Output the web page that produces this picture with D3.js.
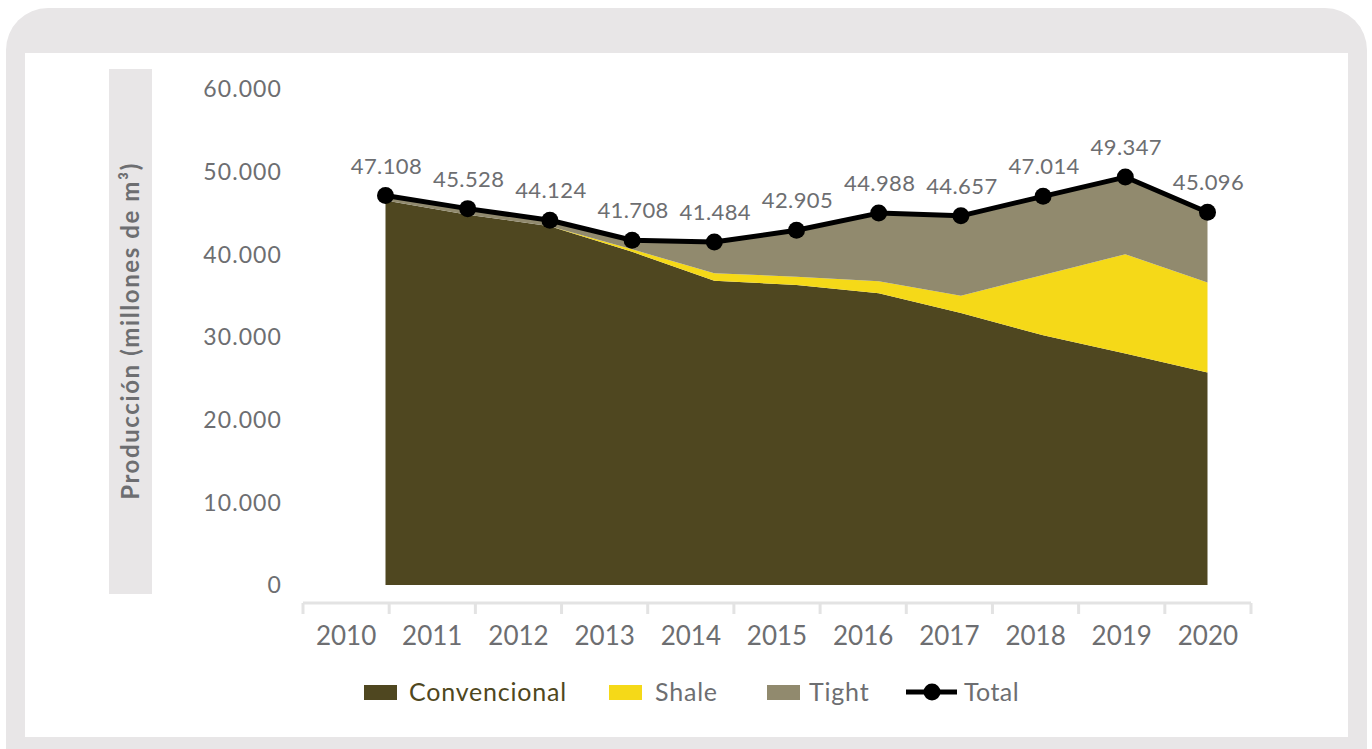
<!DOCTYPE html>
<html>
<head>
<meta charset="utf-8">
<script src="https://cdn.jsdelivr.net/npm/d3@7"></script>
<style>
  html, body { margin: 0; padding: 0; background: #ffffff; }
  svg { display: block; }
  text { font-family: Lato, "Open Sans", sans-serif; }
</style>
</head>
<body>
<svg id="chart" width="1372" height="749"></svg>
<script>
// Producción de gas por tipo de reservorio (millones de m³)
const years = ["2010", "2011", "2012", "2013", "2014", "2015", "2016", "2017", "2018", "2019", "2020"];
const convencional = [46500, 44800, 43400, 40300, 36800, 36300, 35300, 32900, 30200, 28000, 25700];
const shale        = [0, 0, 0, 300, 900, 1000, 1450, 2100, 7300, 12000, 10900];
const tight        = [608, 728, 724, 1108, 3784, 5605, 8238, 9657, 9514, 9347, 8496];
const total        = [47108, 45528, 44124, 41708, 41484, 42905, 44988, 44657, 47014, 49347, 45096];
const yTicks = [0, 10000, 20000, 30000, 40000, 50000, 60000];

const seriesNames  = ["Convencional", "Shale", "Tight"];
const seriesColors = { Convencional: "#4f4720", Shale: "#f5d918", Tight: "#918a6e" };
const labelGray = "#6d6e71";

const fmt = v => d3.format(",")(v).replace(/,/g, ".");

const svg = d3.select("#chart");

// Frame
svg.append("rect").attr("x", 6).attr("y", 8).attr("width", 1361).attr("height", 800)
  .attr("rx", 42).attr("fill", "#e8e6e7");
svg.append("rect").attr("x", 25).attr("y", 53).attr("width", 1323).attr("height", 684)
  .attr("fill", "#ffffff");

// Y-axis title band
svg.append("rect").attr("x", 109).attr("y", 69).attr("width", 43).attr("height", 525)
  .attr("fill", "#e8e6e7");
svg.append("text")
  .attr("transform", "translate(139,331) rotate(-90)")
  .attr("text-anchor", "middle")
  .attr("font-size", 24).attr("font-weight", 700).attr("fill", labelGray)
  .attr("letter-spacing", 1.6)
  .text("Producción (millones de m³)");

// Scales
const y = d3.scaleLinear().domain([0, 60000]).range([585, 89]);
const xBand = d3.scaleBand().domain(years).range([303, 1251]);
const xPt = d3.scalePoint().domain(years).range([385.5, 1207.5]);

// Y tick labels
svg.append("g").selectAll("text").data(yTicks).join("text")
  .attr("x", 282).attr("y", d => y(d)).attr("dy", "0.36em")
  .attr("text-anchor", "end").attr("font-size", 23)
  .attr("letter-spacing", 1.1).attr("fill", labelGray)
  .text(d => fmt(d));

// Stacked areas
const table = years.map((yr, i) => ({
  year: yr, Convencional: convencional[i], Shale: shale[i], Tight: tight[i]
}));
const stacked = d3.stack().keys(seriesNames)(table);
const area = d3.area()
  .x(d => xPt(d.data.year))
  .y0(d => y(d[0]))
  .y1(d => y(d[1]));
svg.append("g").selectAll("path").data(stacked).join("path")
  .attr("d", area)
  .attr("fill", d => seriesColors[d.key]);

// X axis
const xAxis = svg.append("g").attr("transform", "translate(0,603)");
const axisGen = d3.axisBottom(xBand).tickSize(0).tickPadding(0);
xAxis.call(axisGen);
xAxis.select(".domain").remove();
xAxis.selectAll("text")
  .attr("y", 42).attr("dy", 0)
  .attr("font-size", 26).attr("fill", labelGray)
  .attr("font-family", "Lato, sans-serif");
xAxis.append("line").attr("x1", xBand.range()[0]).attr("x2", xBand.range()[1])
  .attr("y1", 0).attr("y2", 0).attr("stroke", "#e3e3e3").attr("stroke-width", 3);
const boundaries = years.map(d => xBand(d)).concat([xBand.range()[1]]);
xAxis.selectAll("line.tk").data(boundaries).join("line").attr("class", "tk")
  .attr("x1", d => d).attr("x2", d => d).attr("y1", 0).attr("y2", 11)
  .attr("stroke", "#e3e3e3").attr("stroke-width", 3);

// Total line with markers
const line = d3.line().x((d, i) => xPt(years[i])).y(d => y(d));
svg.append("path").datum(total).attr("d", line)
  .attr("fill", "none").attr("stroke", "#000").attr("stroke-width", 5)
  .attr("stroke-linejoin", "round");
svg.append("g").selectAll("circle").data(total).join("circle")
  .attr("cx", (d, i) => xPt(years[i])).attr("cy", d => y(d)).attr("r", 8.5)
  .attr("fill", "#000");

// Value labels
svg.append("g").selectAll("text").data(total).join("text")
  .attr("x", (d, i) => xPt(years[i]) + 1).attr("y", d => y(d) - 22)
  .attr("text-anchor", "middle").attr("font-size", 22)
  .attr("letter-spacing", 0.4).attr("fill", labelGray)
  .text(d => fmt(d));

// Legend
const legend = svg.append("g");
const legendItems = [
  { name: "Convencional", x: 364, textX: 409, color: seriesColors.Convencional, textColor: "#4f4720" },
  { name: "Shale", x: 609, textX: 655, color: seriesColors.Shale, textColor: labelGray },
  { name: "Tight", x: 767, textX: 809, color: seriesColors.Tight, textColor: labelGray }
];
legendItems.forEach(it => {
  legend.append("rect").attr("x", it.x).attr("y", 685).attr("width", 33).attr("height", 15)
    .attr("fill", it.color);
  legend.append("text").attr("x", it.textX).attr("y", 701)
    .attr("font-size", 25).attr("letter-spacing", 0.8)
    .attr("fill", it.textColor).text(it.name);
});
legend.append("line").attr("x1", 906).attr("x2", 957).attr("y1", 692).attr("y2", 692)
  .attr("stroke", "#000").attr("stroke-width", 5);
legend.append("circle").attr("cx", 932).attr("cy", 692).attr("r", 8.5).attr("fill", "#000");
legend.append("text").attr("x", 964).attr("y", 701)
  .attr("font-size", 25).attr("letter-spacing", 0.4)
  .attr("fill", labelGray).text("Total");
</script>
</body>
</html>
